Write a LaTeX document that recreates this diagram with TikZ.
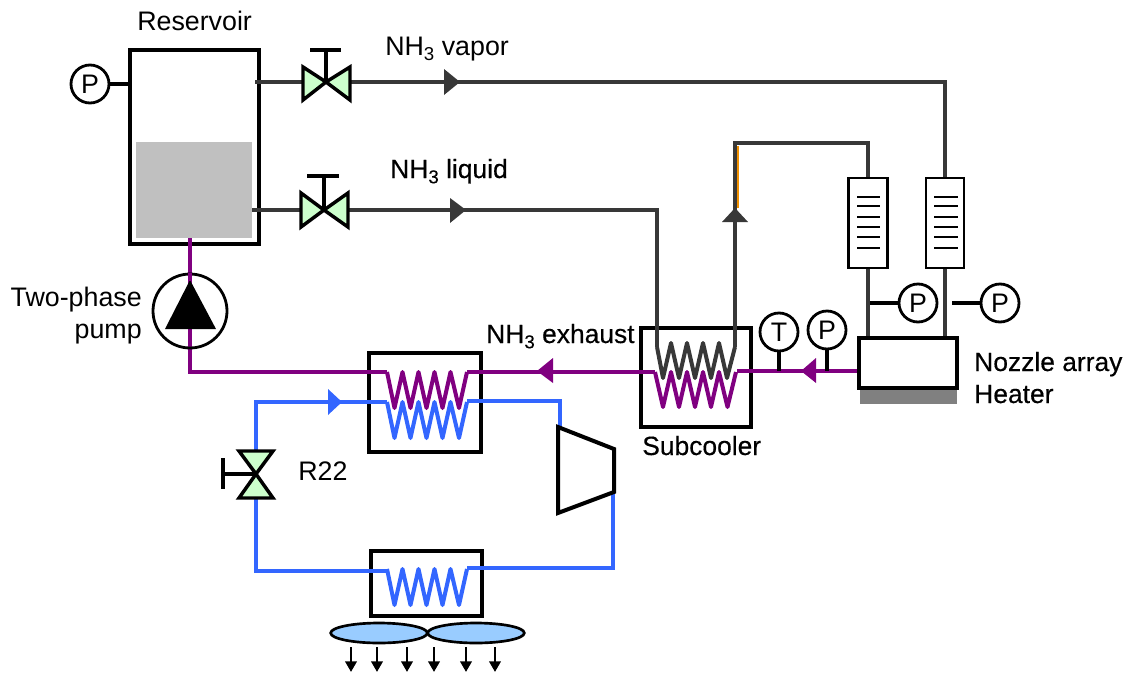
\documentclass[tikz,border=0pt]{standalone}
\usepackage{fontspec}
\setmainfont{Liberation Sans}
\newfontfamily\thickfont[FakeBold=0.35]{Liberation Sans}
\usetikzlibrary{arrows.meta,shapes.geometric}
\definecolor{gasgrey}{HTML}{383838}
\definecolor{ammonia}{HTML}{800080}
\definecolor{refrig}{HTML}{3366FF}
\definecolor{valvegreen}{HTML}{CCFFCC}
\definecolor{fanblue}{HTML}{99CCFF}
\definecolor{liquidgrey}{HTML}{C0C0C0}
\definecolor{heatgrey}{HTML}{808080}
\definecolor{sliver}{HTML}{F09000}
\newcommand\subthree{\raisebox{-.38ex}{\fontsize{14}{14}\selectfont 3}}
\tikzset{
  x=0.75pt,y=-0.75pt,
  lbl/.style={font=\fontsize{20.1}{22}\selectfont,inner sep=0pt,anchor=base west},
  lblt/.style={font=\thickfont\fontsize{19.8}{22}\selectfont,inner sep=0pt,anchor=base west},
  boxa/.style={draw=black,line width=3pt,fill=none,inner sep=0pt},
  gauge/.style={circle,draw=black,line width=2.1pt,fill=white,minimum size=28.5pt,inner sep=0pt,font=\fontsize{20.1}{22}\selectfont},
  tie/.style={draw=black,line width=3pt},
  gasline/.style={draw=gasgrey,line width=3.1pt,line join=miter},
  gasthin/.style={draw=gasgrey,line width=2.5pt},
  nhline/.style={draw=ammonia,line width=3pt,line join=miter},
  rline/.style={draw=refrig,line width=3pt,line join=miter},
  coilline/.style={line width=3pt,line join=round,line cap=butt},
  valve/.style={draw=black,line width=2.6pt,fill=valvegreen,line join=miter},
  stem/.style={draw=black,line width=2.6pt},
  tubebox/.style={draw=black,line width=2pt,inner sep=0pt,minimum height=67.5pt},
  tubetick/.style={draw=black,line width=1.8pt},
  fan/.style={ellipse,draw=black,line width=2pt,fill=fanblue,minimum width=72.5pt,minimum height=15pt,inner sep=0pt},
  airflow/.style={draw=black,line width=2pt,-{Triangle[length=8pt,width=8.5pt]}},
}
\begin{document}
\begin{tikzpicture}
\useasboundingbox (0,0) rectangle (1128,675);
% key points
\coordinate (v1) at (326,82);
\coordinate (v2) at (324,210);
\coordinate (v3) at (256,474);
\coordinate (vapa) at (371,82);
\coordinate (vapb) at (592,82);
\coordinate (vapcorner) at (945,82);
\coordinate (liqcorner) at (657,210);
\coordinate (risecorner) at (735,143);
\coordinate (pipetop) at (868,143);
\coordinate (blueTL) at (256,402);
\coordinate (blueBL) at (256,571);
\coordinate (blueTR) at (560,401);
\coordinate (blueBR) at (613,568);
\coordinate (purpleBL) at (190,372);
% liquid and heater
\fill[liquidgrey] (136,142) rectangle (252,238);
\fill[heatgrey] (860,388) rectangle (957,404);
% boxes
\node[boxa,minimum width=96.75pt,minimum height=145.5pt] (res) at (194.5,147) {};
\node[boxa,minimum width=84pt,minimum height=74.25pt] (hxa) at (425,402.5) {};
\node[boxa,minimum width=82.5pt,minimum height=74.25pt] (sub) at (696,377.5) {};
\node[boxa,minimum width=83.25pt,minimum height=48.75pt] (cond) at (426.5,583.5) {};
\node[boxa,minimum width=73.5pt,minimum height=37.5pt] (heat) at (908,363) {};
\node[tubebox,minimum width=29.25pt] (tubea) at (868,223) {};
\node[tubebox,minimum width=28.5pt] (tubeb) at (945,223) {};
% coil ends
\coordinate (hxaL) at (387,372); \coordinate (hxaR) at (467,372);
\coordinate (hxbL) at (387,402); \coordinate (hxbR) at (467,401);
\coordinate (condL) at (387,571); \coordinate (condR) at (467,568);
\coordinate (subaL) at (655,372); \coordinate (subaR) at (737,371);
\coordinate (subbL) at (657,347); \coordinate (subbR) at (735,347);
% grey pipes
\draw[gasline] (res.east |- v1) ++(-6,0) -- (vapa);
\draw[gasthin] (vapa) -- (vapb);
\draw[gasline] (vapb) -- (vapcorner) -- (tubeb.north);
\draw[gasline] (tubeb.south) -- (tubeb.south |- heat.north);
\draw[gasline] (res.east |- liqcorner) ++(-9,0) -- (liqcorner) -- (subbL);
\draw[gasline] (subbR) -- (risecorner) -- (pipetop) -- (tubea.north);
\draw[sliver,line width=1.1pt] (738,146) -- (738,208);
\draw[gasline] (tubea.south) -- (tubea.south |- heat.north);
% purple pipes
\draw[nhline] (res.south -| purpleBL) ++(0,-8) -- (purpleBL) -- (hxaL);
\draw[nhline] (hxaR) -- (subaL);
\draw[nhline] (subaR) -- (heat.west |- subaR);
% blue pipes
\draw[rline] (v3) -- (blueTL) -- (hxbL);
\draw[rline] (hxbR) -- (blueTR) -- (blueTR |- 0,428);
\draw[rline] (613,492) -- (blueBR) -- (condR);
\draw[rline] (v3) -- (blueBL) -- (condL);
% coils
\draw[coilline,draw=refrig] (hxbL) -- ++(7.5,36) -- ++(8,-36) -- ++(8,36) -- ++(8,-36) -- ++(8,36) -- ++(8,-36) -- ++(8,36) -- ++(8,-36) -- ++(8.5,36) -- ++(8,-36);
\draw[coilline,draw=ammonia] (hxaL) -- ++(7.5,36) -- ++(8,-36) -- ++(8,36) -- ++(8,-36) -- ++(8,36) -- ++(8,-36) -- ++(8,36) -- ++(8,-36) -- ++(8.5,36) -- ++(8,-36);
\draw[coilline,draw=refrig] (condL) ++(0,-2) -- ++(7.5,36) -- ++(8,-36) -- ++(8,36) -- ++(8,-36) -- ++(8,36) -- ++(8,-36) -- ++(8,36) -- ++(8,-36) -- ++(8.5,36) -- ++(8,-36);
\draw[coilline,draw=ammonia] (subaL) -- ++(8,35) -- ++(8,-35) -- ++(8,35) -- ++(8,-35) -- ++(8,35) -- ++(8,-35) -- ++(8,35) -- ++(8,-35) -- ++(8.5,35) -- ++(8.5,-35);
\draw[coilline,draw=gasgrey] (subbL) -- ++(6,31) -- ++(8,-35) -- ++(8,35) -- ++(8,-35) -- ++(8,35) -- ++(8,-35) -- ++(8,35) -- ++(8,-35) -- ++(8,35) -- (subbR);
% flow arrows
\fill[gasgrey] (444,69) -- (460,82) -- (444,95) -- cycle;
\fill[gasgrey] (450,198) -- (466,210) -- (450,223) -- cycle;
\fill[gasgrey] (735,208) -- (748,222) -- (722,222) -- cycle;
\fill[ammonia] (537,371) -- (553,358) -- (553,383) -- cycle;
\fill[ammonia] (801,371) -- (816,358) -- (816,383) -- cycle;
\fill[refrig] (328,389) -- (342,402) -- (328,415) -- cycle;
% valves
\draw[valve] (v1) -- (303,67) -- (303,100) -- cycle;
\draw[valve] (v1) -- (350,67) -- (350,100) -- cycle;
\draw[stem] (v1) -- (326,50);
\draw[stem] (310,50) -- (341,50);
\draw[valve] (v2) -- (301,193) -- (301,227) -- cycle;
\draw[valve] (v2) -- (348,193) -- (348,227) -- cycle;
\draw[stem] (v2) -- (324,176);
\draw[stem] (307,176) -- (339,176);
\draw[valve] (v3) -- (239,451) -- (273,451) -- cycle;
\draw[valve] (v3) -- (239,498) -- (273,498) -- cycle;
\draw[stem] (v3) -- (223,474);
\draw[stem] (223,458) -- (223,489);
% compressor
\draw[draw=black,line width=3pt,line join=miter] (558,427) -- (614,449) -- (614,492) -- (558,513) -- cycle;
% pump
\node[circle,draw=black,line width=2.1pt,minimum size=55.5pt,inner sep=0pt] (pump) at (190,311) {};
\fill[black] (190,280) -- (216,329) -- (165,329) -- cycle;
\draw[nhline] (pump.north) -- (190,281);
% tube ticks
\foreach \yy in {197,206,217,227,237,248}{
  \draw[tubetick] (857,\yy) -- (880,\yy);
  \draw[tubetick] (934,\yy) -- (958,\yy);
}
% gauges
\node[gauge] (gres) at (90,84) {P};
\node[gauge] (gt) at (779,332) {T};
\node[gauge] (gp) at (827,330) {P};
\node[gauge] (gta) at (918,303) {P};
\node[gauge] (gtb) at (1000,303) {P};
\coordinate (stemt) at (779,371); \coordinate (stemp) at (827,371);
\coordinate (tiea) at (870,303); \coordinate (tieb) at (952,303);
\draw[tie] (gres.east) -- (res.west |- gres);
\draw[tie] (gt.south) -- (stemt);
\draw[tie] (gp.south) -- (stemp);
\draw[tie] (tiea) -- (gta.west);
\draw[tie] (tieb) -- (gtb.west);
% fans
\node[fan] (fana) at (379,633) {};
\node[fan] (fanb) at (476,633) {};
\foreach \xx in {351,377,407,434,466,495}{
  \draw[airflow] (\xx,647) -- (\xx,672);
}
% labels
\node[lbl] (lres) at (137,30) {Reservoir};
\node[lbl] (lvap) at (385,55) {NH\subthree{} vapor};
\node[lblt] (lliq) at (390,178) {NH\subthree{} liquid};
\node[lblt] (lexh) at (486,343) {NH\subthree{} exhaust};
\node[lblt] (lsub) at (642,455) {Subcooler};
\node[lbl,anchor=base east] (ltwo) at (142,306) {Two-phase};
\node[lbl,anchor=base east] (lpump) at (142,338) {pump};
\node[lblt] (lnoz) at (974,371) {Nozzle array};
\node[lblt] (lheat) at (974,403) {Heater};
\node[lbl] (lr) at (298,480) {R22};
\end{tikzpicture}
\end{document}
